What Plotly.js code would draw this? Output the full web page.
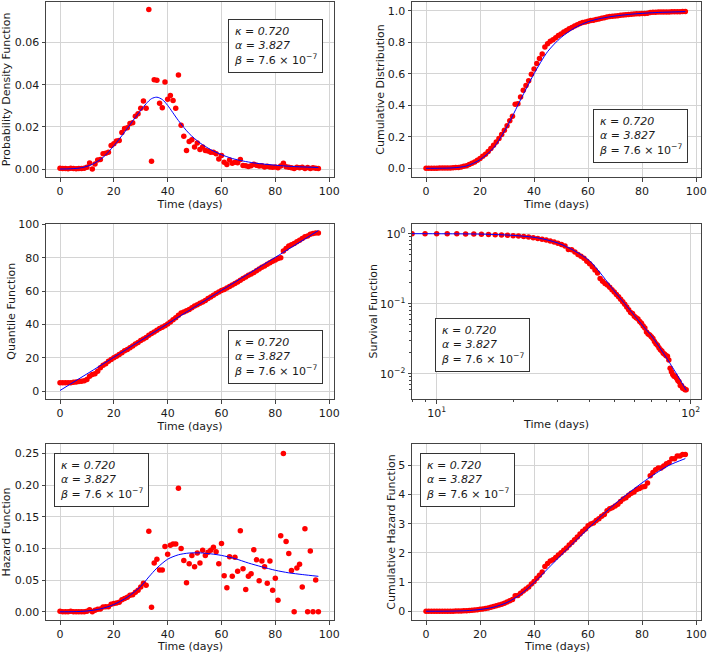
<!DOCTYPE html>
<html><head><meta charset="utf-8">
<script src="https://cdn.plot.ly/plotly-3.0.1.min.js"></script>
<style>html,body{margin:0;padding:0;background:#fff}#chart{width:708px;height:652px}</style>
</head><body><div id="chart"></div>
<script>
// ---------------- data ----------------
const days = [0,1,2,3,4,5,6,7,8,9,10,11,12,13,14,15,16,17,18,19,20,21,22,23,24,25,26,27,28,29,30,31,32,33,34,35,36,37,38,39,40,41,42,43,44,45,46,47,48,49,50,51,52,53,54,55,56,57,58,59,60,61,62,63,64,65,66,67,68,69,70,71,72,73,74,75,76,77,78,79,80,81,82,83,84,85,86,87,88,89,90,91,92,93,94,95,96];

const pdfVals = [0.0003,0.0002,0.0002,0.0001,0.0004,0.0002,0.0001,0.0002,0.0002,0.0003,0.0008,0.0029,0.0000,0.0024,0.0043,0.0045,0.0072,0.0075,0.0080,0.0112,0.0120,0.0133,0.0135,0.0173,0.0192,0.0196,0.0216,0.0220,0.0251,0.0262,0.0288,0.0323,0.0288,0.0757,0.0037,0.0424,0.0421,0.0312,0.0291,0.0413,0.0331,0.0349,0.0325,0.0288,0.0446,0.0208,0.0155,0.0088,0.0131,0.0139,0.0104,0.0123,0.0093,0.0104,0.0088,0.0086,0.0080,0.0079,0.0072,0.0048,0.0064,0.0032,0.0021,0.0043,0.0027,0.0032,0.0030,0.0045,0.0017,0.0015,0.0012,0.0016,0.0022,0.0018,0.0014,0.0015,0.0010,0.0013,0.0010,0.0008,0.0010,0.0006,0.0014,0.0027,0.0011,0.0008,0.0006,0.0002,0.0008,0.0006,0.0008,0.0002,0.0007,0.0002,0.0006,0.0004,0.0002];

const cdfVals = [0.0003,0.0005,0.0007,0.0008,0.0012,0.0014,0.0015,0.0017,0.0019,0.0022,0.0030,0.0059,0.0059,0.0083,0.0126,0.0171,0.0243,0.0318,0.0398,0.0510,0.0630,0.0763,0.0898,0.1071,0.1263,0.1459,0.1675,0.1895,0.2146,0.2408,0.2696,0.3019,0.3307,0.4064,0.4101,0.4525,0.4946,0.5258,0.5549,0.5962,0.6293,0.6642,0.6967,0.7255,0.7701,0.7909,0.8064,0.8152,0.8283,0.8422,0.8526,0.8649,0.8742,0.8846,0.8934,0.9020,0.9100,0.9179,0.9251,0.9275,0.9335,0.9370,0.9393,0.9444,0.9474,0.9518,0.9548,0.9605,0.9630,0.9642,0.9661,0.9680,0.9710,0.9732,0.9745,0.9764,0.9780,0.9789,0.9804,0.9810,0.9819,0.9822,0.9843,0.9880,0.9893,0.9902,0.9908,0.9908,0.9914,0.9920,0.9923,0.9932,0.9932,0.9938,0.9938,0.9941,0.9941];

const quantileVals = [5.0,5.0,5.0,5.0,5.1,5.3,5.5,5.8,6.0,6.2,7.0,9.0,10.0,10.5,12.0,14.0,15.5,16.5,18.0,19.0,20.0,21.0,22.0,23.0,24.2,25.0,26.0,27.0,28.2,29.2,30.3,31.3,32.2,33.5,34.5,35.5,36.5,37.5,38.3,39.2,40.3,41.5,42.8,44.0,45.5,46.8,47.5,48.2,49.0,50.0,51.0,51.8,52.7,53.5,54.4,55.5,56.5,57.5,58.5,59.4,60.3,61.0,61.8,62.8,63.6,64.5,65.5,66.5,67.5,68.5,69.5,70.3,71.2,72.2,73.2,74.2,75.0,76.0,77.0,77.8,78.6,79.5,80.0,84.0,85.5,87.0,87.8,88.5,89.5,90.5,91.5,92.5,93.0,94.0,94.5,94.8,94.8];

const survDays = [1,2,3,4,5,6,7,8,9,10,11,12,13,14,15,16,17,18,19,20,21,22,23,24,25,26,27,28,29,30,31,32,33,34,35,36,37,38,39,40,41,42,43,44,45,46,47,48,49,50,51,52,53,54,55,56,57,58,59,60,61,62,63,64,65,66,67,68,69,70,71,72,73,74,75,76,77,78,79,80,81,82,83,84,85,86,87,88,89,90,91,92,93,94,95,96];
const survVals = [0.9995,0.9993,0.9992,0.9988,0.9986,0.9985,0.9983,0.9981,0.9978,0.9970,0.9941,0.9941,0.9917,0.9874,0.9829,0.9757,0.9682,0.9602,0.9490,0.9370,0.9237,0.9102,0.8929,0.8737,0.8541,0.8325,0.8105,0.7854,0.7592,0.7304,0.6981,0.6693,0.5936,0.5899,0.5475,0.5054,0.4742,0.4451,0.4038,0.3707,0.3358,0.3033,0.2745,0.2299,0.2091,0.1936,0.1848,0.1717,0.1578,0.1474,0.1351,0.1258,0.1154,0.1066,0.0980,0.0900,0.0821,0.0749,0.0725,0.0665,0.0630,0.0607,0.0556,0.0526,0.0482,0.0452,0.0395,0.0370,0.0358,0.0339,0.0320,0.0290,0.0268,0.0255,0.0236,0.0220,0.0211,0.0196,0.0190,0.0181,0.0178,0.0157,0.0120,0.0107,0.0098,0.0092,0.0092,0.0086,0.0080,0.0077,0.0068,0.0068,0.0062,0.0062,0.0059,0.0059];

const hazardVals = [0.001,0.000,0.000,0.000,0.001,0.000,0.000,0.000,0.000,0.000,0.001,0.003,0.000,0.0025,0.004,0.0045,0.0075,0.008,0.008,0.012,0.013,0.014,0.015,0.019,0.021,0.023,0.026,0.027,0.031,0.034,0.039,0.045,0.042,0.127,0.007,0.077,0.083,0.066,0.066,0.103,0.091,0.105,0.107,0.107,0.195,0.100,0.081,0.046,0.076,0.089,0.071,0.093,0.077,0.097,0.089,0.094,0.097,0.102,0.095,0.076,0.108,0.057,0.038,0.087,0.056,0.086,0.064,0.128,0.068,0.035,0.056,0.060,0.098,0.082,0.049,0.080,0.071,0.045,0.080,0.034,0.053,0.018,0.120,0.250,0.111,0.092,0.065,0.000,0.069,0.075,0.039,0.131,0.000,0.096,0.000,0.050,0.000];

const cumHazardVals = [0.000,0.000,0.000,0.001,0.002,0.002,0.002,0.002,0.003,0.003,0.004,0.007,0.007,0.009,0.014,0.018,0.026,0.034,0.042,0.054,0.067,0.081,0.096,0.115,0.136,0.159,0.185,0.212,0.243,0.277,0.316,0.361,0.403,0.530,0.537,0.614,0.697,0.763,0.829,0.932,1.023,1.128,1.235,1.342,1.537,1.637,1.718,1.764,1.840,1.929,2.000,2.093,2.170,2.267,2.356,2.450,2.547,2.649,2.744,2.820,2.928,2.985,3.023,3.110,3.166,3.252,3.316,3.444,3.512,3.547,3.603,3.663,3.761,3.843,3.892,3.972,4.043,4.088,4.168,4.202,4.255,4.273,4.393,4.643,4.754,4.846,4.911,4.911,4.980,5.055,5.094,5.225,5.225,5.321,5.321,5.371,5.371];

// fitted model curves
const pdfFitT = [0,4,8,12,16,20,24,28,32,34,36,38,40,44,48,52,56,60,64,68,72,76,80,84,88,92,96];
const pdfFitV = [0.0000,0.0001,0.0006,0.0022,0.0055,0.0110,0.0175,0.0245,0.0310,0.0334,0.0341,0.0330,0.0302,0.0230,0.0168,0.0124,0.0092,0.0068,0.0050,0.0038,0.0029,0.0023,0.0018,0.0014,0.0011,0.0009,0.0007];

const cdfFitT = [0,5,10,15,20,25,30,35,40,45,50,55,60,65,70,75,80,85,90,96];
const cdfFitV = [0,0.0005,0.003,0.015,0.055,0.130,0.265,0.435,0.600,0.740,0.830,0.890,0.930,0.952,0.966,0.976,0.983,0.988,0.991,0.994];

const quantFitT = [0,20,40,60,80,96];
const quantFitV = [0.4,20.3,40.4,60.4,80.2,96.3];

const survFitT = [8,10,15,20,25,30,35,40,45,50,55,60,65,70,75,80,85,90,96];
const survFitV = [0.999,0.997,0.985,0.945,0.870,0.735,0.565,0.410,0.250,0.152,0.100,0.068,0.048,0.0350,0.0245,0.0172,0.0122,0.0087,0.0058];

const hazFitT = [0,5,10,15,20,25,30,33,36,40,44,48,52,56,60,65,70,75,80,85,90,96];
const hazFitV = [0.0000,0.0002,0.0012,0.0045,0.0115,0.0230,0.0400,0.0550,0.0690,0.0830,0.0900,0.0928,0.0930,0.0915,0.0890,0.0840,0.0770,0.0710,0.0655,0.0615,0.0588,0.0560];

const cumHazFitT = [0,10,15,20,25,30,35,40,45,50,55,60,65,70,75,80,85,90,96];
const cumHazFitV = [0,0.005,0.02,0.06,0.14,0.30,0.58,0.98,1.45,1.92,2.38,2.83,3.27,3.68,4.05,4.40,4.72,5.00,5.23];

const timeTicks = [0,20,40,60,80,100];
const paramLines = ['<i>κ = 0.720</i>','<i>α = 3.827</i>','<i>β</i> = 7.6 × 10<sup>−7</sup>'];
const xLabel = 'Time (days)';

// ---------------- layout helpers ----------------
const W = 708, H = 652;
const FONT = 'DejaVu Sans, sans-serif';
const TXT = '#1a1a1a';
const FRAME = '#444';
const GRID = '#d4d4d4';
const colX = [[46,334],[412,701]];
const rowY = [[2,177],[223.5,399],[444,620]];
const dx = p => [p[0]/W, p[1]/W];
const dy = p => [1 - p[1]/H, 1 - p[0]/H];
const tf = {family:FONT, size:11, color:TXT};

function baseAxis(extra){
  return Object.assign({
    showline:true, mirror:true, linecolor:FRAME, linewidth:1,
    ticks:'outside', ticklen:3.5, tickwidth:1, tickcolor:FRAME,
    showgrid:true, gridcolor:GRID, gridwidth:1, zeroline:false,
    tickfont:tf, automargin:false
  }, extra);
}
function xTitle(){ return {text:xLabel, font:tf, standoff:1}; }
function yTitle(t, s){ return {text:t, font:tf, standoff:s}; }

const red = {color:'#ff0000', size:5.5, line:{width:0}};
const blue = {color:'#0000ff', width:1};

const traces = [];
function addPanel(idx, xs, ys, fx, fy){
  const xa = idx===1 ? 'x' : 'x'+idx, ya = idx===1 ? 'y' : 'y'+idx;
  traces.push({x:xs, y:ys, xaxis:xa, yaxis:ya, mode:'markers', type:'scatter', marker:red, showlegend:false, hoverinfo:'skip'});
  traces.push({x:fx, y:fy, xaxis:xa, yaxis:ya, mode:'lines', type:'scatter', line:Object.assign({shape:'spline', smoothing:0.8}, blue), showlegend:false, hoverinfo:'skip'});
}
addPanel(1, days, pdfVals, pdfFitT, pdfFitV);
addPanel(2, days, cdfVals, cdfFitT, cdfFitV);
addPanel(3, days, quantileVals, quantFitT, quantFitV);
addPanel(4, survDays, survVals, survFitT, survFitV);
addPanel(5, days, hazardVals, hazFitT, hazFitV);
addPanel(6, days, cumHazardVals, cumHazFitT, cumHazFitV);

const linX = (c, withTitle) => baseAxis(Object.assign({domain:dx(colX[c]), range:[-5.2,101.8], tickvals:timeTicks}, withTitle ? {title:xTitle()} : {}));

const layout = {
  width:W, height:H, margin:{l:0,r:0,t:0,b:0},
  paper_bgcolor:'#fff', plot_bgcolor:'#fff',
  font:tf,
  xaxis: Object.assign(linX(0,true), {anchor:'y'}),
  yaxis: baseAxis({domain:dy(rowY[0]), anchor:'x', range:[-0.0038,0.0793], dtick:0.02, tickformat:'.2f', title:yTitle('Probability Density Function',2)}),
  xaxis2: Object.assign(linX(1,true), {anchor:'y2'}),
  yaxis2: baseAxis({domain:dy(rowY[0]), anchor:'x2', range:[-0.055,1.055], dtick:0.2, tickformat:'.1f', title:yTitle('Cumulative Distribution',0)}),
  xaxis3: Object.assign(linX(0,true), {anchor:'y3'}),
  yaxis3: baseAxis({domain:dy(rowY[1]), anchor:'x3', range:[-4.7,100.5], dtick:20, title:yTitle('Quantile Function',0)}),
  xaxis4: baseAxis({domain:dx(colX[1]), anchor:'y4', type:'log', range:[0.9028,2.0406],
    tickmode:'array', tickvals:[10,100], ticktext:['10<sup>1</sup>','10<sup>2</sup>'],
    minor:{tickmode:'array', tickvals:[8,9,20,30,40,50,60,70,80,90], ticks:'outside', ticklen:2, tickcolor:FRAME, showgrid:false},
    title:xTitle()}),
  yaxis4: baseAxis({domain:dy(rowY[1]), anchor:'x4', type:'log', range:[-2.36,0.145],
    tickmode:'array', tickvals:[1,0.1,0.01], ticktext:['10<sup>0</sup>','10<sup>−1</sup>','10<sup>−2</sup>'],
    minor:{tickmode:'array', tickvals:[0.006,0.007,0.008,0.009,0.02,0.03,0.04,0.05,0.06,0.07,0.08,0.09,0.2,0.3,0.4,0.5,0.6,0.7,0.8,0.9], ticks:'outside', ticklen:2, tickcolor:FRAME, showgrid:false},
    title:yTitle('Survival Function',0)}),
  xaxis5: Object.assign(linX(0,false), {anchor:'y5'}),
  yaxis5: baseAxis({domain:dy(rowY[2]), anchor:'x5', range:[-0.013,0.265], dtick:0.05, tickformat:'.2f', title:yTitle('Hazard Function',3)}),
  xaxis6: Object.assign(linX(1,false), {anchor:'y6'}),
  yaxis6: baseAxis({domain:dy(rowY[2]), anchor:'x6', range:[-0.3,5.73], dtick:1, title:yTitle('Cumulative Hazard Function',0)}),
  annotations: []
};

// bottom-row x titles (placed as paper text so they are not pulled up by the figure edge)
[0,1].forEach(c => {
  layout.annotations.push({
    xref:'paper', yref:'paper', x:(colX[c][0]+colX[c][1])/2/W, y:-2/H,
    xanchor:'center', yanchor:'bottom', borderpad:0, text:xLabel, showarrow:false, font:tf
  });
});

const boxPos = [[227.7,19],[593.3,109],[227.7,330],[435,318.3],[53.7,453.3],[420,453.3]];
boxPos.forEach(p => {
  layout.annotations.push({
    xref:'paper', yref:'paper', x:p[0]/W, y:1 - p[1]/H, xanchor:'left', yanchor:'top',
    text: paramLines.join('<br>'), align:'left', showarrow:false,
    font:tf, bordercolor:'#333', borderwidth:1, borderpad:5, bgcolor:'#fff'
  });
});

Plotly.newPlot('chart', traces, layout, {displayModeBar:false, staticPlot:true});
</script>
</body></html>
